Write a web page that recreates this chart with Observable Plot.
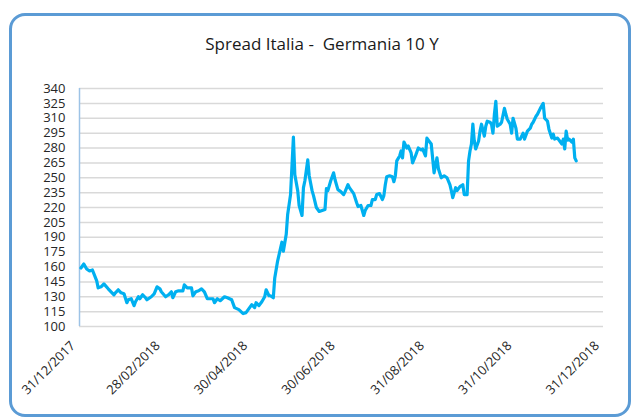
<!DOCTYPE html>
<html>
<head>
<meta charset="utf-8">
<script src="https://cdn.jsdelivr.net/npm/d3@7"></script>
<script src="https://cdn.jsdelivr.net/npm/@observablehq/plot@0.6"></script>
<style>
  html, body { margin: 0; padding: 0; background: #fff; }
  #wrap { position: relative; width: 631px; height: 418px; overflow: hidden; font-family: "Open Sans", sans-serif; }
  #frame { position: absolute; left: 9px; top: 13px; width: 622px; height: 404px; box-sizing: border-box;
           border: 3px solid #5b9bd5; border-radius: 16px; }
  #title { position: absolute; top: 34px; left: 322px; transform: translateX(-50%); white-space: pre;
           font-size: 17px; line-height: 20px; color: #1a1a1a; }
  #chart { position: absolute; left: 0; top: 0; }
</style>
</head>
<body>
<div id="wrap">
  <div id="frame"></div>
  <div id="title">Spread Italia -  Germania 10 Y</div>
  <div id="chart"></div>
</div>
<script>
const titleText = "Spread Italia -  Germania 10 Y";
// day number since 31/12/2017 (1 = 01/01/2018)
const days = [
  1,3,5,7,9,12,13,15,17,20,
  22,24,25,27,29,31,33,34,36,38,
  39,41,42,44,46,47,50,52,54,56,
  57,60,62,64,65,67,69,72,73,75,
  78,79,81,83,85,87,89,91,93,94,
  96,98,101,103,106,108,111,114,116,118,
  120,122,123,125,127,129,130,132,133,135,
  136,138,141,142,144,145,147,149,150,152,
  153,155,156,157,159,160,162,163,165,167,
  169,171,172,173,175,177,178,180,182,184,
  185,187,188,190,191,193,194,196,198,199,
  201,203,204,206,207,209,211,212,213,214,
  216,218,219,220,221,223,224,225,226,228,
  229,231,232,234,236,238,239,241,242,243,
  245,247,249,250,252,254,256,258,259,260,
  262,263,265,267,268,270,271,272,273,274,
  275,276,278,279,280,282,283,284,286,287,
  288,289,290,291,293,294,296,297,298,300,
  301,302,304,305,307,309,310,312,314,315,
  316,318,319,321,323,324,326,327,329,330,
  331,333,335,336,337,338,339,340,341,343,
  344,345,346
];
const spread = [
  159,163,158,156,157,146,139,140,143,138,
  135,132,134,137,134,133,124,127,128,121,
  125,130,128,132,129,127,130,133,140,138,
  135,130,132,135,129,135,136,136,142,139,
  139,131,135,136,138,135,128,128,128,124,
  128,126,130,129,127,119,117,113,114,118,
  122,119,124,121,125,130,137,131,131,129,
  149,166,185,176,193,213,233,291,253,237,
  222,212,240,247,268,252,237,232,220,216,
  217,218,239,237,247,255,248,238,236,233,
  236,243,240,236,234,225,221,222,212,217,
  222,222,228,228,233,234,228,232,243,251,
  252,251,246,252,267,272,277,270,286,280,
  282,275,265,272,280,278,279,272,290,288,
  284,255,270,259,250,252,250,243,237,230,
  240,237,241,243,233,233,267,277,284,304,
  287,279,287,297,304,292,302,307,306,304,
  295,314,327,302,304,306,320,314,309,304,
  295,310,300,289,289,295,289,297,300,304,
  306,312,314,320,325,310,307,299,290,294,
  289,290,286,284,289,279,297,288,289,286,
  289,270,267
];
const yTicks = [100,115,130,145,160,175,190,205,220,235,250,265,280,295,310,325,340];
const tickDates = ["2017-12-31","2018-02-28","2018-04-30","2018-06-30","2018-08-31","2018-10-31","2018-12-31"];
const tickLabels = ["31/12/2017","28/02/2018","30/04/2018","30/06/2018","31/08/2018","31/10/2018","31/12/2018"];

const start = new Date(Date.UTC(2017, 11, 31));
const end = new Date(Date.UTC(2018, 11, 31));
const data = days.map((d, i) => ({date: d3.utcDay.offset(start, d), value: spread[i]}));
const xTicks = tickDates.map((s, i) => ({date: new Date(s + "T00:00:00Z"), label: tickLabels[i]}));

const chart = Plot.plot({
  width: 631,
  height: 418,
  marginLeft: 79,
  marginRight: 28,
  marginTop: 88,
  marginBottom: 92,
  x: {type: "utc", domain: [start, end], axis: null},
  y: {domain: [100, 340]},
  style: {fontFamily: "Open Sans", fontSize: "13px", color: "#262626", background: "transparent", overflow: "visible"},
  marks: [
    Plot.ruleY(yTicks, {stroke: "#d9d9d9", strokeWidth: 1.5}),
    Plot.ruleX([start], {stroke: "#9dc3e6", strokeWidth: 1.5}),
    Plot.axisY(yTicks, {tickSize: 0, tickPadding: 14, label: null, fontSize: 13}),
    Plot.lineY(data, {x: "date", y: "value", stroke: "#00b0f0", strokeWidth: 3.2, strokeLinejoin: "round"}),
    Plot.text(xTicks, {x: "date", text: "label", frameAnchor: "bottom", rotate: -45, textAnchor: "end",
      lineAnchor: "top", dx: -10, dy: 13.5, fontSize: 13, fill: "#262626"})
  ]
});
document.getElementById("chart").appendChild(chart);
</script>
</body>
</html>
